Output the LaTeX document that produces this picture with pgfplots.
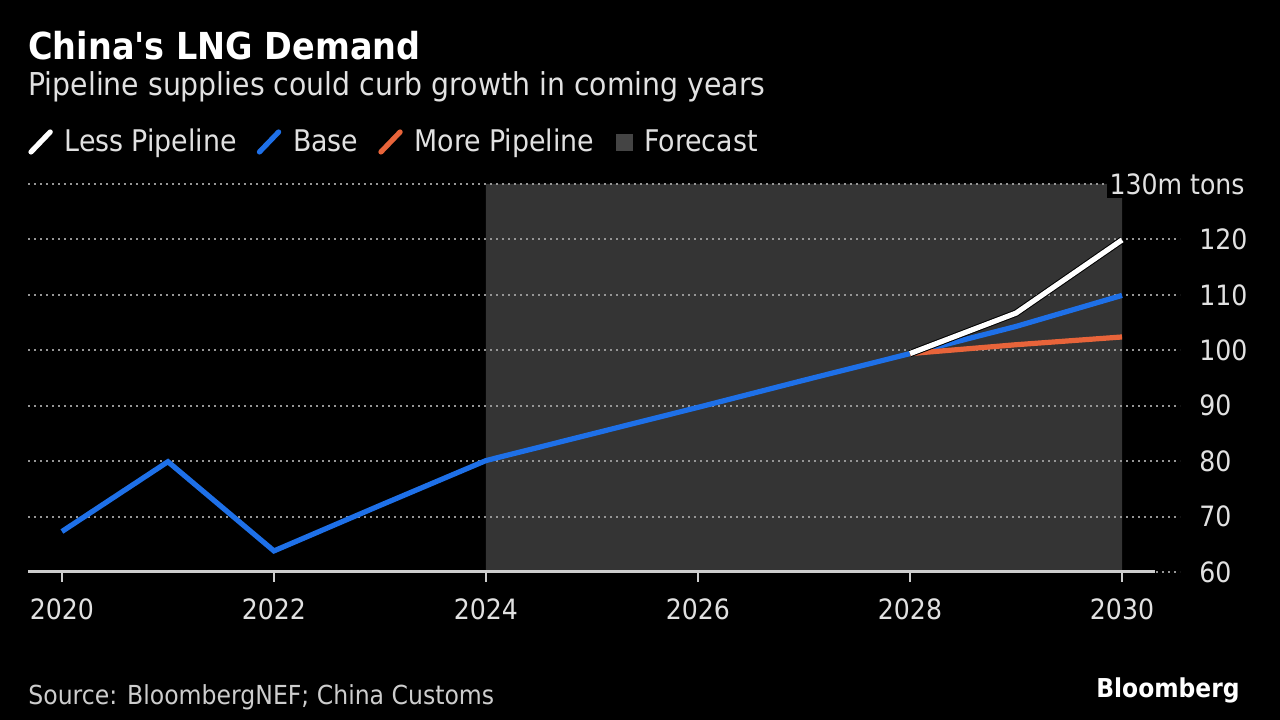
\documentclass[border=0pt]{standalone}
\usepackage{pgfplots}
\pgfplotsset{compat=1.18}
\usepackage{fontspec}
\setmainfont{DejaVu Sans Condensed}
\definecolor{bblue}{RGB}{30,112,232}
\definecolor{borange}{RGB}{232,100,58}
\definecolor{fcgray}{RGB}{52,52,52}
\definecolor{legsq}{RGB}{68,68,68}
\definecolor{gridc}{RGB}{150,150,150}
\definecolor{axc}{RGB}{205,205,205}
\definecolor{txt}{RGB}{225,225,225}
\pgfplotsset{
  slashleg/.style={legend image code/.code={\path[draw=none] (0pt,0pt) -- (16pt,0pt);\draw[line width=2.6pt, line cap=round,##1] (1.2pt,-5pt) -- (10.8pt,5pt);}},
  squareleg/.style={legend image code/.code={\path[draw=none] (0pt,0pt) -- (13pt,0pt);\fill[legsq] (1pt,-4pt) rectangle (9pt,4pt);}},
}
\begin{document}
\begin{tikzpicture}
\node[anchor=base west, inner sep=0pt, text=white, font=\fontsize{18.6}{18.6}\selectfont\bfseries] at (0pt,256pt) {China\textquotesingle s LNG Demand};
\node[anchor=base west, inner sep=0pt, text=txt, font=\fontsize{15.75}{15.75}\selectfont] at (0pt,238pt) {Pipeline supplies could curb growth in coming years};
\node[anchor=base west, inner sep=0pt, text=axc, font=\fontsize{13.1}{13.1}\selectfont] at (0pt,-66.5pt) {Source: BloombergNEF; China Customs};
\node[anchor=base east, inner sep=0pt, text=white, font=\fontsize{13}{13}\selectfont\bfseries] at (606pt,-63pt) {Bloomberg};
\begin{axis}[
  set layers, clip=false,
  at={(0pt,0pt)}, anchor=south west,
  scale only axis, width=576pt, height=194pt,
  xmin=2019.68, xmax=2030.547, ymin=60, ymax=130,
  axis line style={draw=none},
  tick align=outside, major tick length=5pt,
  xtick pos=bottom,
  xtick={2020,2022,2024,2026,2028,2030},
  xticklabels={2020,2022,2024,2026,2028,2030},
  xtick style={axc, line width=1.2pt},
  xticklabel style={text=txt, font=\fontsize{14}{14}\selectfont, anchor=base, inner sep=0pt, yshift=-19pt},
  ytick={60,70,80,90,100,110,120},
  yticklabels={60,70,80,90,100,110,120},
  yticklabel pos=right,
  ytick style={draw=none},
  yticklabel style={text=txt, font=\fontsize{14}{14}\selectfont, anchor=west, inner sep=0pt, xshift=4.5pt},
  extra y ticks={130},
  extra y tick labels={},
  ymajorgrids,
  grid style={gridc, line width=1pt, dash pattern=on 1pt off 2pt},
  legend columns=4,
  legend style={draw=none, fill=none, text=txt, font=\fontsize{14.9}{14.9}\selectfont,
    at={(0pt,215pt)}, anchor=west, inner sep=0pt,
    /tikz/every even column/.append style={column sep=8pt},
    nodes={inner sep=2pt}},
  legend cell align=left,
]
\begin{pgfonlayer}{axis background}
\fill[black] (rel axis cs:-0.02431,-0.38144) rectangle (rel axis cs:1.08681,1.47423);
\end{pgfonlayer}
\addplot[fill=fcgray, draw=none, on layer=axis background, forget plot]
  coordinates {(2024,60) (2024,130) (2030,130) (2030,60) (2024,60)};
\addlegendimage{slashleg, white}
\addlegendentry{Less Pipeline}
\addlegendimage{slashleg, bblue}
\addlegendentry{Base}
\addlegendimage{slashleg, borange}
\addlegendentry{More Pipeline}
\addlegendimage{squareleg}
\addlegendentry{Forecast}
\draw[axc, line width=1.5pt] (axis cs:2019.68,60) -- (axis cs:2030.31,60);
\addplot[bblue, line width=2.6pt, forget plot] coordinates {
(2020,67.3) (2021,79.9) (2022,63.8) (2023,72.0) (2024,80.1) (2025,84.9) (2026,89.7) (2027,94.6) (2028,99.4) (2029,104.3) (2030,109.9)};
\addplot[borange, line width=2.6pt, forget plot] coordinates {
(2028,99.4) (2029,101.0) (2030,102.4)};
\addplot[white, line width=2.6pt, preaction={draw, black, line width=3.6pt}, forget plot] coordinates {
(2028,99.4) (2029,106.7) (2030,119.9)};
\node[anchor=east, fill=black, text=txt, inner sep=1.5pt, font=\fontsize{14}{14}\selectfont] at (axis cs:2030.547,130) [xshift=34pt] {130m tons};
\end{axis}
\end{tikzpicture}
\end{document}
